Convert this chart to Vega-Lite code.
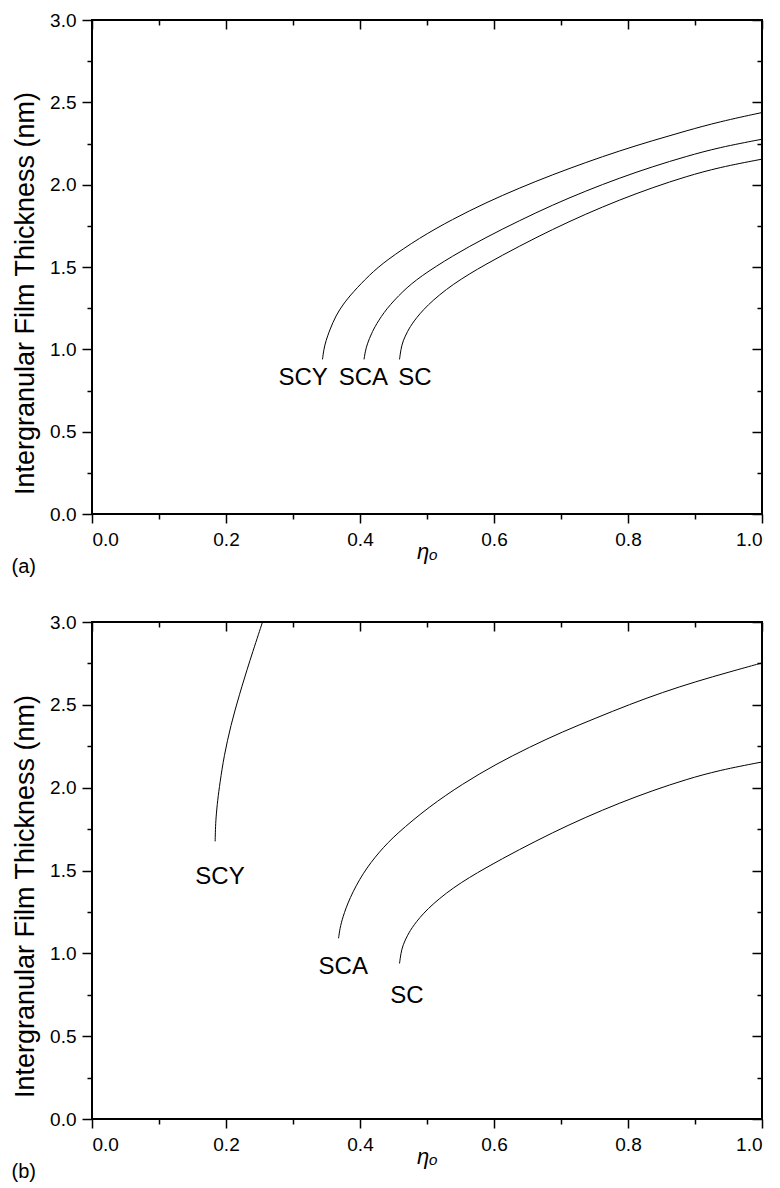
{
  "$schema": "https://vega.github.io/schema/vega-lite/v6.json",
  "padding": {"left": 10, "top": 10, "right": 10, "bottom": 5},
  "spacing": 34,
  "config": {
    "font": "Liberation Sans",
    "view": {"stroke": "black", "strokeWidth": 2},
    "axis": {"domain": false, "grid": false, "tickColor": "black", "tickWidth": 1.5, "labelColor": "black", "labelFont": "Liberation Sans", "labelFontSize": 19, "titleColor": "black", "titleFont": "Liberation Sans", "titleFontWeight": "normal"},
    "title": {"font": "Liberation Sans", "fontWeight": "normal", "color": "black", "fontSize": 20}
  },
  "datasets": {
    "lines": [
      {"panel": "a", "series": "SCY", "x": 0.344, "y": 0.939},
      {"panel": "a", "series": "SCY", "x": 0.346, "y": 1.0},
      {"panel": "a", "series": "SCY", "x": 0.349, "y": 1.05},
      {"panel": "a", "series": "SCY", "x": 0.355, "y": 1.12},
      {"panel": "a", "series": "SCY", "x": 0.364, "y": 1.205},
      {"panel": "a", "series": "SCY", "x": 0.375, "y": 1.275},
      {"panel": "a", "series": "SCY", "x": 0.389, "y": 1.345},
      {"panel": "a", "series": "SCY", "x": 0.414, "y": 1.452},
      {"panel": "a", "series": "SCY", "x": 0.439, "y": 1.54},
      {"panel": "a", "series": "SCY", "x": 0.489, "y": 1.678},
      {"panel": "a", "series": "SCY", "x": 0.538, "y": 1.79},
      {"panel": "a", "series": "SCY", "x": 0.588, "y": 1.891},
      {"panel": "a", "series": "SCY", "x": 0.638, "y": 1.98},
      {"panel": "a", "series": "SCY", "x": 0.687, "y": 2.06},
      {"panel": "a", "series": "SCY", "x": 0.737, "y": 2.135},
      {"panel": "a", "series": "SCY", "x": 0.787, "y": 2.205},
      {"panel": "a", "series": "SCY", "x": 0.837, "y": 2.268},
      {"panel": "a", "series": "SCY", "x": 0.887, "y": 2.327},
      {"panel": "a", "series": "SCY", "x": 0.936, "y": 2.382},
      {"panel": "a", "series": "SCY", "x": 1.0, "y": 2.438},
      {"panel": "a", "series": "SCA", "x": 0.406, "y": 0.939},
      {"panel": "a", "series": "SCA", "x": 0.408, "y": 0.99},
      {"panel": "a", "series": "SCA", "x": 0.411, "y": 1.035},
      {"panel": "a", "series": "SCA", "x": 0.417, "y": 1.095},
      {"panel": "a", "series": "SCA", "x": 0.424, "y": 1.151},
      {"panel": "a", "series": "SCA", "x": 0.439, "y": 1.245},
      {"panel": "a", "series": "SCA", "x": 0.464, "y": 1.354},
      {"panel": "a", "series": "SCA", "x": 0.489, "y": 1.44},
      {"panel": "a", "series": "SCA", "x": 0.538, "y": 1.568},
      {"panel": "a", "series": "SCA", "x": 0.588, "y": 1.68},
      {"panel": "a", "series": "SCA", "x": 0.638, "y": 1.782},
      {"panel": "a", "series": "SCA", "x": 0.687, "y": 1.876},
      {"panel": "a", "series": "SCA", "x": 0.737, "y": 1.962},
      {"panel": "a", "series": "SCA", "x": 0.787, "y": 2.04},
      {"panel": "a", "series": "SCA", "x": 0.837, "y": 2.11},
      {"panel": "a", "series": "SCA", "x": 0.887, "y": 2.172},
      {"panel": "a", "series": "SCA", "x": 0.936, "y": 2.226},
      {"panel": "a", "series": "SCA", "x": 1.0, "y": 2.276},
      {"panel": "a", "series": "SC", "x": 0.459, "y": 0.939},
      {"panel": "a", "series": "SC", "x": 0.461, "y": 1.0},
      {"panel": "a", "series": "SC", "x": 0.464, "y": 1.05},
      {"panel": "a", "series": "SC", "x": 0.471, "y": 1.11},
      {"panel": "a", "series": "SC", "x": 0.479, "y": 1.165},
      {"panel": "a", "series": "SC", "x": 0.499, "y": 1.265},
      {"panel": "a", "series": "SC", "x": 0.538, "y": 1.397},
      {"panel": "a", "series": "SC", "x": 0.588, "y": 1.518},
      {"panel": "a", "series": "SC", "x": 0.638, "y": 1.627},
      {"panel": "a", "series": "SC", "x": 0.687, "y": 1.728},
      {"panel": "a", "series": "SC", "x": 0.737, "y": 1.822},
      {"panel": "a", "series": "SC", "x": 0.787, "y": 1.907},
      {"panel": "a", "series": "SC", "x": 0.837, "y": 1.983},
      {"panel": "a", "series": "SC", "x": 0.887, "y": 2.05},
      {"panel": "a", "series": "SC", "x": 0.936, "y": 2.105},
      {"panel": "a", "series": "SC", "x": 1.0, "y": 2.155},
      {"panel": "b", "series": "SCY", "x": 0.1838, "y": 1.676},
      {"panel": "b", "series": "SCY", "x": 0.1842, "y": 1.75},
      {"panel": "b", "series": "SCY", "x": 0.185, "y": 1.816},
      {"panel": "b", "series": "SCY", "x": 0.1875, "y": 1.925},
      {"panel": "b", "series": "SCY", "x": 0.191, "y": 2.03},
      {"panel": "b", "series": "SCY", "x": 0.197, "y": 2.19},
      {"panel": "b", "series": "SCY", "x": 0.207, "y": 2.375},
      {"panel": "b", "series": "SCY", "x": 0.22, "y": 2.562},
      {"panel": "b", "series": "SCY", "x": 0.235, "y": 2.76},
      {"panel": "b", "series": "SCY", "x": 0.2545, "y": 3.0},
      {"panel": "b", "series": "SCA", "x": 0.368, "y": 1.091},
      {"panel": "b", "series": "SCA", "x": 0.37, "y": 1.15},
      {"panel": "b", "series": "SCA", "x": 0.374, "y": 1.215},
      {"panel": "b", "series": "SCA", "x": 0.384, "y": 1.33},
      {"panel": "b", "series": "SCA", "x": 0.404, "y": 1.484},
      {"panel": "b", "series": "SCA", "x": 0.429, "y": 1.615},
      {"panel": "b", "series": "SCA", "x": 0.454, "y": 1.72},
      {"panel": "b", "series": "SCA", "x": 0.503, "y": 1.885},
      {"panel": "b", "series": "SCA", "x": 0.553, "y": 2.023},
      {"panel": "b", "series": "SCA", "x": 0.603, "y": 2.142},
      {"panel": "b", "series": "SCA", "x": 0.653, "y": 2.245},
      {"panel": "b", "series": "SCA", "x": 0.702, "y": 2.337},
      {"panel": "b", "series": "SCA", "x": 0.752, "y": 2.42},
      {"panel": "b", "series": "SCA", "x": 0.802, "y": 2.502},
      {"panel": "b", "series": "SCA", "x": 0.852, "y": 2.576},
      {"panel": "b", "series": "SCA", "x": 0.901, "y": 2.64},
      {"panel": "b", "series": "SCA", "x": 0.951, "y": 2.698},
      {"panel": "b", "series": "SCA", "x": 1.0, "y": 2.753},
      {"panel": "b", "series": "SC", "x": 0.459, "y": 0.939},
      {"panel": "b", "series": "SC", "x": 0.461, "y": 1.0},
      {"panel": "b", "series": "SC", "x": 0.464, "y": 1.05},
      {"panel": "b", "series": "SC", "x": 0.471, "y": 1.11},
      {"panel": "b", "series": "SC", "x": 0.479, "y": 1.165},
      {"panel": "b", "series": "SC", "x": 0.499, "y": 1.265},
      {"panel": "b", "series": "SC", "x": 0.538, "y": 1.397},
      {"panel": "b", "series": "SC", "x": 0.588, "y": 1.518},
      {"panel": "b", "series": "SC", "x": 0.638, "y": 1.627},
      {"panel": "b", "series": "SC", "x": 0.687, "y": 1.728},
      {"panel": "b", "series": "SC", "x": 0.737, "y": 1.822},
      {"panel": "b", "series": "SC", "x": 0.787, "y": 1.907},
      {"panel": "b", "series": "SC", "x": 0.837, "y": 1.983},
      {"panel": "b", "series": "SC", "x": 0.887, "y": 2.05},
      {"panel": "b", "series": "SC", "x": 0.936, "y": 2.105},
      {"panel": "b", "series": "SC", "x": 1.0, "y": 2.155}
    ],
    "labels": [
      {"panel": "a", "series": "SCY", "x": 0.315, "y": 0.825},
      {"panel": "a", "series": "SCA", "x": 0.405, "y": 0.825},
      {"panel": "a", "series": "SC", "x": 0.482, "y": 0.825},
      {"panel": "b", "series": "SCY", "x": 0.191, "y": 1.459},
      {"panel": "b", "series": "SCA", "x": 0.375, "y": 0.918},
      {"panel": "b", "series": "SC", "x": 0.47, "y": 0.741}
    ]
  },
  "vconcat": [
    {
      "width": 670,
      "height": 494,
      "title": {"text": "(a)", "orient": "bottom", "anchor": "start", "frame": "bounds", "offset": -5},
      "layer": [
        {
          "data": {"name": "lines"},
          "transform": [{"filter": "datum.panel == 'a'"}],
          "mark": {"type": "line", "color": "black", "strokeWidth": 1, "interpolate": "basis"},
          "encoding": {
            "x": {"field": "x", "type": "quantitative", "scale": {"domain": [0, 1], "nice": false}, "axis": {"orient": "bottom", "values": [0, 0.2, 0.4, 0.6, 0.8, 1], "format": ".1f", "tickSize": 9, "labelPadding": 7, "title": "ηₒ", "titleFontSize": 22, "titleFontStyle": "italic", "titlePadding": -8}},
            "y": {"field": "y", "type": "quantitative", "scale": {"domain": [0, 3], "nice": false}, "axis": {"orient": "left", "values": [0, 0.5, 1, 1.5, 2, 2.5, 3], "format": ".1f", "tickSize": 10, "labelPadding": 6, "title": "Intergranular Film Thickness (nm)", "titleFontSize": 27, "titlePadding": 10, "titleY": 273}},
            "detail": {"field": "series"}
          }
        },
        {
          "data": {"name": "labels"},
          "transform": [{"filter": "datum.panel == 'a'"}],
          "mark": {"type": "text", "fontSize": 24, "baseline": "middle", "align": "center", "color": "black"},
          "encoding": {
            "x": {"field": "x", "type": "quantitative", "axis": {"orient": "bottom", "values": [0.1, 0.3, 0.5, 0.7, 0.9], "tickSize": 5, "labels": false, "title": null}},
            "y": {"field": "y", "type": "quantitative", "axis": {"orient": "left", "values": [0.25, 0.75, 1.25, 1.75, 2.25, 2.75], "tickSize": 5, "labels": false, "title": null}},
            "text": {"field": "series"}
          }
        },
        {
          "data": {"name": "lines"},
          "transform": [{"filter": "datum.panel == 'a'"}],
          "mark": {"type": "line", "strokeOpacity": 0},
          "encoding": {
            "x": {"field": "x", "type": "quantitative", "axis": {"orient": "top", "values": [0, 0.2, 0.4, 0.6, 0.8, 1], "tickSize": -9, "labels": false, "title": null}},
            "y": {"field": "y", "type": "quantitative", "axis": {"orient": "right", "values": [0, 0.5, 1, 1.5, 2, 2.5, 3], "tickSize": -10, "labels": false, "title": null}},
            "detail": {"field": "series"}
          }
        },
        {
          "data": {"name": "labels"},
          "transform": [{"filter": "datum.panel == 'a'"}],
          "mark": {"type": "text", "opacity": 0},
          "encoding": {
            "x": {"field": "x", "type": "quantitative", "axis": {"orient": "top", "values": [0.1, 0.3, 0.5, 0.7, 0.9], "tickSize": -5, "labels": false, "title": null}},
            "y": {"field": "y", "type": "quantitative", "axis": {"orient": "right", "values": [0.25, 0.75, 1.25, 1.75, 2.25, 2.75], "tickSize": -5, "labels": false, "title": null}},
            "text": {"field": "series"}
          }
        }
      ],
      "resolve": {"axis": {"x": "independent", "y": "independent"}}
    },
    {
      "width": 670,
      "height": 497,
      "title": {"text": "(b)", "orient": "bottom", "anchor": "start", "frame": "bounds", "offset": -5},
      "layer": [
        {
          "data": {"name": "lines"},
          "transform": [{"filter": "datum.panel == 'b'"}],
          "mark": {"type": "line", "color": "black", "strokeWidth": 1, "interpolate": "basis"},
          "encoding": {
            "x": {"field": "x", "type": "quantitative", "scale": {"domain": [0, 1], "nice": false}, "axis": {"orient": "bottom", "values": [0, 0.2, 0.4, 0.6, 0.8, 1], "format": ".1f", "tickSize": 9, "labelPadding": 7, "title": "ηₒ", "titleFontSize": 22, "titleFontStyle": "italic", "titlePadding": -8}},
            "y": {"field": "y", "type": "quantitative", "scale": {"domain": [0, 3], "nice": false}, "axis": {"orient": "left", "values": [0, 0.5, 1, 1.5, 2, 2.5, 3], "format": ".1f", "tickSize": 10, "labelPadding": 6, "title": "Intergranular Film Thickness (nm)", "titleFontSize": 27, "titlePadding": 10, "titleY": 274}},
            "detail": {"field": "series"}
          }
        },
        {
          "data": {"name": "labels"},
          "transform": [{"filter": "datum.panel == 'b'"}],
          "mark": {"type": "text", "fontSize": 24, "baseline": "middle", "align": "center", "color": "black"},
          "encoding": {
            "x": {"field": "x", "type": "quantitative", "axis": {"orient": "bottom", "values": [0.1, 0.3, 0.5, 0.7, 0.9], "tickSize": 5, "labels": false, "title": null}},
            "y": {"field": "y", "type": "quantitative", "axis": {"orient": "left", "values": [0.25, 0.75, 1.25, 1.75, 2.25, 2.75], "tickSize": 5, "labels": false, "title": null}},
            "text": {"field": "series"}
          }
        },
        {
          "data": {"name": "lines"},
          "transform": [{"filter": "datum.panel == 'b'"}],
          "mark": {"type": "line", "strokeOpacity": 0},
          "encoding": {
            "x": {"field": "x", "type": "quantitative", "axis": {"orient": "top", "values": [0, 0.2, 0.4, 0.6, 0.8, 1], "tickSize": -9, "labels": false, "title": null}},
            "y": {"field": "y", "type": "quantitative", "axis": {"orient": "right", "values": [0, 0.5, 1, 1.5, 2, 2.5, 3], "tickSize": -10, "labels": false, "title": null}},
            "detail": {"field": "series"}
          }
        },
        {
          "data": {"name": "labels"},
          "transform": [{"filter": "datum.panel == 'b'"}],
          "mark": {"type": "text", "opacity": 0},
          "encoding": {
            "x": {"field": "x", "type": "quantitative", "axis": {"orient": "top", "values": [0.1, 0.3, 0.5, 0.7, 0.9], "tickSize": -5, "labels": false, "title": null}},
            "y": {"field": "y", "type": "quantitative", "axis": {"orient": "right", "values": [0.25, 0.75, 1.25, 1.75, 2.25, 2.75], "tickSize": -5, "labels": false, "title": null}},
            "text": {"field": "series"}
          }
        }
      ],
      "resolve": {"axis": {"x": "independent", "y": "independent"}}
    }
  ]
}
